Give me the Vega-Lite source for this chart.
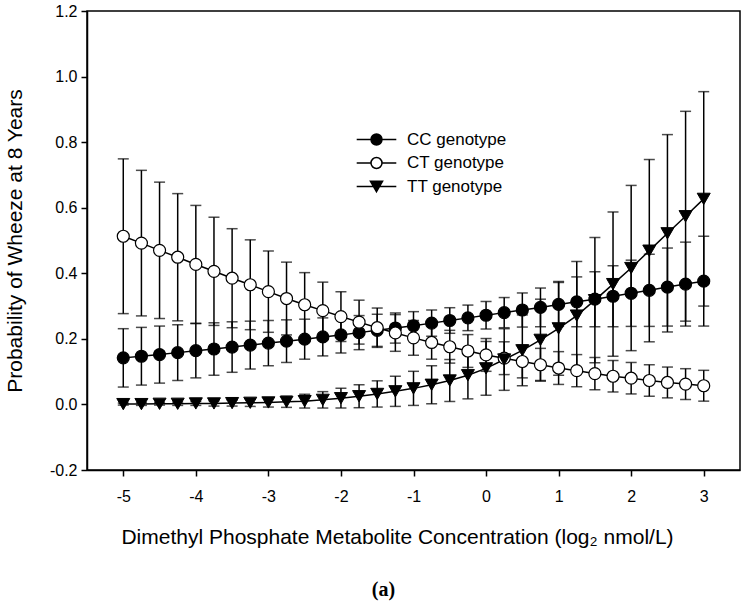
{
  "$schema": "https://vega.github.io/schema/vega-lite/v6.json",
  "width": 653,
  "height": 459,
  "autosize": {"type": "none"},
  "padding": {"left": 87, "top": 11, "right": 8, "bottom": 139},
  "background": "white",
  "title": {"text": "(a)", "orient": "bottom", "anchor": "middle", "frame": "group", "dx": -30, "offset": 33, "font": "Liberation Serif", "fontSize": 20, "fontWeight": "bold", "color": "black"},
  "config": {
    "view": {"stroke": "black", "strokeWidth": 1.5},
    "font": "Liberation Sans",
    "axis": {"grid": false, "domainColor": "black", "domainWidth": 1.5, "tickColor": "black", "tickWidth": 1.5, "tickSize": 6, "labelColor": "black", "labelFont": "Liberation Sans", "labelFontSize": 16, "titleFont": "Liberation Sans", "titleFontSize": 21, "titleFontWeight": "normal", "titleColor": "black"},
    "legend": {"title": null, "orient": "none", "legendX": 281, "legendY": 120, "padding": 0, "labelFont": "Liberation Sans", "labelFontSize": 17, "labelColor": "black", "symbolSize": 121, "labelOffset": 22, "rowPadding": 5.5, "symbolStrokeColor": "black", "symbolStrokeWidth": 1.5, "symbolOpacity": 1}
  },
  "data": {"values": [
    {"g": "CC genotype", "x": -5, "p": 0.142, "lo": 0.053, "hi": 0.231},
    {"g": "CC genotype", "x": -4.75, "p": 0.147, "lo": 0.059, "hi": 0.235},
    {"g": "CC genotype", "x": -4.5, "p": 0.152, "lo": 0.065, "hi": 0.239},
    {"g": "CC genotype", "x": -4.25, "p": 0.158, "lo": 0.073, "hi": 0.243},
    {"g": "CC genotype", "x": -4, "p": 0.164, "lo": 0.081, "hi": 0.247},
    {"g": "CC genotype", "x": -3.75, "p": 0.169, "lo": 0.089, "hi": 0.249},
    {"g": "CC genotype", "x": -3.5, "p": 0.175, "lo": 0.098, "hi": 0.252},
    {"g": "CC genotype", "x": -3.25, "p": 0.181, "lo": 0.108, "hi": 0.254},
    {"g": "CC genotype", "x": -3, "p": 0.187, "lo": 0.118, "hi": 0.256},
    {"g": "CC genotype", "x": -2.75, "p": 0.193, "lo": 0.128, "hi": 0.258},
    {"g": "CC genotype", "x": -2.5, "p": 0.199, "lo": 0.138, "hi": 0.260},
    {"g": "CC genotype", "x": -2.25, "p": 0.206, "lo": 0.148, "hi": 0.264},
    {"g": "CC genotype", "x": -2, "p": 0.212, "lo": 0.157, "hi": 0.267},
    {"g": "CC genotype", "x": -1.75, "p": 0.219, "lo": 0.167, "hi": 0.271},
    {"g": "CC genotype", "x": -1.5, "p": 0.226, "lo": 0.177, "hi": 0.275},
    {"g": "CC genotype", "x": -1.25, "p": 0.233, "lo": 0.187, "hi": 0.279},
    {"g": "CC genotype", "x": -1, "p": 0.240, "lo": 0.197, "hi": 0.283},
    {"g": "CC genotype", "x": -0.75, "p": 0.248, "lo": 0.208, "hi": 0.288},
    {"g": "CC genotype", "x": -0.5, "p": 0.256, "lo": 0.217, "hi": 0.295},
    {"g": "CC genotype", "x": -0.25, "p": 0.264, "lo": 0.225, "hi": 0.303},
    {"g": "CC genotype", "x": 0, "p": 0.272, "lo": 0.230, "hi": 0.314},
    {"g": "CC genotype", "x": 0.25, "p": 0.280, "lo": 0.234, "hi": 0.326},
    {"g": "CC genotype", "x": 0.5, "p": 0.288, "lo": 0.236, "hi": 0.340},
    {"g": "CC genotype", "x": 0.75, "p": 0.296, "lo": 0.237, "hi": 0.355},
    {"g": "CC genotype", "x": 1, "p": 0.305, "lo": 0.238, "hi": 0.372},
    {"g": "CC genotype", "x": 1.25, "p": 0.313, "lo": 0.237, "hi": 0.389},
    {"g": "CC genotype", "x": 1.5, "p": 0.321, "lo": 0.237, "hi": 0.405},
    {"g": "CC genotype", "x": 1.75, "p": 0.330, "lo": 0.237, "hi": 0.423},
    {"g": "CC genotype", "x": 2, "p": 0.339, "lo": 0.238, "hi": 0.440},
    {"g": "CC genotype", "x": 2.25, "p": 0.348, "lo": 0.238, "hi": 0.458},
    {"g": "CC genotype", "x": 2.5, "p": 0.358, "lo": 0.239, "hi": 0.477},
    {"g": "CC genotype", "x": 2.75, "p": 0.367, "lo": 0.239, "hi": 0.495},
    {"g": "CC genotype", "x": 3, "p": 0.376, "lo": 0.239, "hi": 0.513},
    {"g": "CT genotype", "x": -5, "p": 0.513, "lo": 0.277, "hi": 0.749},
    {"g": "CT genotype", "x": -4.75, "p": 0.492, "lo": 0.270, "hi": 0.714},
    {"g": "CT genotype", "x": -4.5, "p": 0.470, "lo": 0.262, "hi": 0.678},
    {"g": "CT genotype", "x": -4.25, "p": 0.449, "lo": 0.255, "hi": 0.643},
    {"g": "CT genotype", "x": -4, "p": 0.427, "lo": 0.247, "hi": 0.607},
    {"g": "CT genotype", "x": -3.75, "p": 0.406, "lo": 0.241, "hi": 0.571},
    {"g": "CT genotype", "x": -3.5, "p": 0.385, "lo": 0.234, "hi": 0.536},
    {"g": "CT genotype", "x": -3.25, "p": 0.365, "lo": 0.228, "hi": 0.502},
    {"g": "CT genotype", "x": -3, "p": 0.344, "lo": 0.220, "hi": 0.468},
    {"g": "CT genotype", "x": -2.75, "p": 0.323, "lo": 0.212, "hi": 0.434},
    {"g": "CT genotype", "x": -2.5, "p": 0.304, "lo": 0.206, "hi": 0.402},
    {"g": "CT genotype", "x": -2.25, "p": 0.286, "lo": 0.199, "hi": 0.373},
    {"g": "CT genotype", "x": -2, "p": 0.268, "lo": 0.192, "hi": 0.344},
    {"g": "CT genotype", "x": -1.75, "p": 0.251, "lo": 0.184, "hi": 0.318},
    {"g": "CT genotype", "x": -1.5, "p": 0.234, "lo": 0.174, "hi": 0.294},
    {"g": "CT genotype", "x": -1.25, "p": 0.218, "lo": 0.162, "hi": 0.274},
    {"g": "CT genotype", "x": -1, "p": 0.203, "lo": 0.150, "hi": 0.256},
    {"g": "CT genotype", "x": -0.75, "p": 0.189, "lo": 0.138, "hi": 0.240},
    {"g": "CT genotype", "x": -0.5, "p": 0.176, "lo": 0.126, "hi": 0.226},
    {"g": "CT genotype", "x": -0.25, "p": 0.163, "lo": 0.113, "hi": 0.213},
    {"g": "CT genotype", "x": 0, "p": 0.151, "lo": 0.101, "hi": 0.201},
    {"g": "CT genotype", "x": 0.25, "p": 0.141, "lo": 0.091, "hi": 0.191},
    {"g": "CT genotype", "x": 0.5, "p": 0.131, "lo": 0.081, "hi": 0.181},
    {"g": "CT genotype", "x": 0.75, "p": 0.121, "lo": 0.071, "hi": 0.171},
    {"g": "CT genotype", "x": 1, "p": 0.111, "lo": 0.061, "hi": 0.161},
    {"g": "CT genotype", "x": 1.25, "p": 0.103, "lo": 0.054, "hi": 0.152},
    {"g": "CT genotype", "x": 1.5, "p": 0.094, "lo": 0.045, "hi": 0.143},
    {"g": "CT genotype", "x": 1.75, "p": 0.086, "lo": 0.038, "hi": 0.134},
    {"g": "CT genotype", "x": 2, "p": 0.080, "lo": 0.032, "hi": 0.128},
    {"g": "CT genotype", "x": 2.25, "p": 0.073, "lo": 0.025, "hi": 0.121},
    {"g": "CT genotype", "x": 2.5, "p": 0.067, "lo": 0.020, "hi": 0.114},
    {"g": "CT genotype", "x": 2.75, "p": 0.062, "lo": 0.015, "hi": 0.109},
    {"g": "CT genotype", "x": 3, "p": 0.057, "lo": 0.010, "hi": 0.104},
    {"g": "TT genotype", "x": -5, "p": 0.001, "lo": -0.002, "hi": 0.004},
    {"g": "TT genotype", "x": -4.75, "p": 0.001, "lo": -0.003, "hi": 0.005},
    {"g": "TT genotype", "x": -4.5, "p": 0.002, "lo": -0.002, "hi": 0.006},
    {"g": "TT genotype", "x": -4.25, "p": 0.002, "lo": -0.003, "hi": 0.007},
    {"g": "TT genotype", "x": -4, "p": 0.003, "lo": -0.003, "hi": 0.009},
    {"g": "TT genotype", "x": -3.75, "p": 0.003, "lo": -0.005, "hi": 0.011},
    {"g": "TT genotype", "x": -3.5, "p": 0.004, "lo": -0.005, "hi": 0.013},
    {"g": "TT genotype", "x": -3.25, "p": 0.005, "lo": -0.006, "hi": 0.016},
    {"g": "TT genotype", "x": -3, "p": 0.006, "lo": -0.008, "hi": 0.020},
    {"g": "TT genotype", "x": -2.75, "p": 0.008, "lo": -0.009, "hi": 0.025},
    {"g": "TT genotype", "x": -2.5, "p": 0.010, "lo": -0.011, "hi": 0.031},
    {"g": "TT genotype", "x": -2.25, "p": 0.014, "lo": -0.011, "hi": 0.039},
    {"g": "TT genotype", "x": -2, "p": 0.019, "lo": -0.011, "hi": 0.049},
    {"g": "TT genotype", "x": -1.75, "p": 0.025, "lo": -0.010, "hi": 0.060},
    {"g": "TT genotype", "x": -1.5, "p": 0.032, "lo": -0.008, "hi": 0.072},
    {"g": "TT genotype", "x": -1.25, "p": 0.040, "lo": -0.006, "hi": 0.086},
    {"g": "TT genotype", "x": -1, "p": 0.049, "lo": -0.003, "hi": 0.101},
    {"g": "TT genotype", "x": -0.75, "p": 0.060, "lo": 0.002, "hi": 0.118},
    {"g": "TT genotype", "x": -0.5, "p": 0.073, "lo": 0.009, "hi": 0.137},
    {"g": "TT genotype", "x": -0.25, "p": 0.089, "lo": 0.017, "hi": 0.161},
    {"g": "TT genotype", "x": 0, "p": 0.110, "lo": 0.028, "hi": 0.192},
    {"g": "TT genotype", "x": 0.25, "p": 0.137, "lo": 0.043, "hi": 0.231},
    {"g": "TT genotype", "x": 0.5, "p": 0.165, "lo": 0.057, "hi": 0.273},
    {"g": "TT genotype", "x": 0.75, "p": 0.197, "lo": 0.073, "hi": 0.321},
    {"g": "TT genotype", "x": 1, "p": 0.232, "lo": 0.089, "hi": 0.375},
    {"g": "TT genotype", "x": 1.25, "p": 0.271, "lo": 0.106, "hi": 0.436},
    {"g": "TT genotype", "x": 1.5, "p": 0.318, "lo": 0.127, "hi": 0.509},
    {"g": "TT genotype", "x": 1.75, "p": 0.367, "lo": 0.147, "hi": 0.587},
    {"g": "TT genotype", "x": 2, "p": 0.416, "lo": 0.164, "hi": 0.668},
    {"g": "TT genotype", "x": 2.25, "p": 0.469, "lo": 0.191, "hi": 0.747},
    {"g": "TT genotype", "x": 2.5, "p": 0.522, "lo": 0.221, "hi": 0.823},
    {"g": "TT genotype", "x": 2.75, "p": 0.574, "lo": 0.254, "hi": 0.894},
    {"g": "TT genotype", "x": 3, "p": 0.627, "lo": 0.300, "hi": 0.954}
  ]},
  "encoding": {
    "x": {
      "field": "x", "type": "quantitative",
      "scale": {"domain": [-5.5, 3.5], "nice": false, "zero": false},
      "axis": {"values": [-5, -4, -3, -2, -1, 0, 1, 2, 3], "labelPadding": 12, "labelExpr": "replace(datum.label, '\u2212', '-')", "title": "Dimethyl Phosphate Metabolite Concentration (log\u2082 nmol/L)", "titleX": 310, "titleY": 73, "titleAlign": "center", "titleBaseline": "alphabetic"}
    }
  },
  "layer": [
    {
      "mark": {"type": "rule", "color": "black", "strokeWidth": 1.5},
      "encoding": {
        "y": {"field": "lo", "type": "quantitative", "title": "Probability of Wheeze at 8 Years",
          "scale": {"domain": [-0.2, 1.2], "nice": false, "zero": false},
          "axis": {"values": [-0.2, 0, 0.2, 0.4, 0.6, 0.8, 1.0, 1.2], "format": ".1f", "labelExpr": "replace(datum.label, '\u2212', '-')", "labelPadding": 4, "titleX": -66, "titleY": 229.5, "titleAngle": 270, "titleAlign": "center", "titleBaseline": "alphabetic"}},
        "y2": {"field": "hi"}
      }
    },
    {
      "mark": {"type": "tick", "orient": "horizontal", "size": 11, "thickness": 1.5, "color": "black"},
      "encoding": {"y": {"field": "lo", "type": "quantitative", "title": "Probability of Wheeze at 8 Years"}}
    },
    {
      "mark": {"type": "tick", "orient": "horizontal", "size": 11, "thickness": 1.5, "color": "black"},
      "encoding": {"y": {"field": "hi", "type": "quantitative", "title": "Probability of Wheeze at 8 Years"}}
    },
    {
      "mark": {"type": "line", "color": "black", "strokeWidth": 1.5},
      "encoding": {
        "y": {"field": "p", "type": "quantitative", "title": "Probability of Wheeze at 8 Years"},
        "detail": {"field": "g", "type": "nominal"}
      }
    },
    {
      "transform": [{"filter": "datum.g != 'TT genotype'"}],
      "mark": {"type": "point", "shape": "circle", "filled": true, "stroke": "black", "strokeWidth": 1.2, "opacity": 1, "size": 144},
      "encoding": {
        "y": {"field": "p", "type": "quantitative", "title": "Probability of Wheeze at 8 Years"},
        "fill": {"condition": {"test": "datum.g == 'CT genotype'", "value": "white"}, "value": "black"}
      }
    },
    {
      "transform": [{"filter": "datum.g == 'TT genotype'"}],
      "mark": {"type": "point", "shape": "triangle-down", "filled": true, "fill": "black", "stroke": "black", "strokeWidth": 1, "opacity": 1, "size": 170},
      "encoding": {
        "y": {"field": "p", "type": "quantitative", "title": "Probability of Wheeze at 8 Years"}
      }
    },
    {
      "transform": [{"filter": "false"}],
      "mark": {"type": "point", "filled": true, "strokeWidth": 1.5, "opacity": 1},
      "encoding": {
        "y": {"field": "p", "type": "quantitative", "title": "Probability of Wheeze at 8 Years"},
        "shape": {"field": "g", "type": "nominal",
          "scale": {"domain": ["CC genotype", "CT genotype", "TT genotype"],
            "range": ["M-3.6,0H-1M1,0H3.6M-1,0A1,1,0,1,0,1,0A1,1,0,1,0,-1,0Z", "M-3.6,0H-1M1,0H3.6M-1,0A1,1,0,1,0,1,0A1,1,0,1,0,-1,0Z", "M-3.6,0H3.6M0,0.95L1.1,-0.95L-1.1,-0.95Z"]},
          "legend": {"title": null}},
        "fill": {"field": "g", "type": "nominal",
          "scale": {"domain": ["CC genotype", "CT genotype", "TT genotype"], "range": ["black", "white", "black"]},
          "legend": {"title": null}},
        "stroke": {"field": "g", "type": "nominal",
          "scale": {"domain": ["CC genotype", "CT genotype", "TT genotype"], "range": ["black", "black", "black"]},
          "legend": {"title": null}}
      }
    }
  ]
}
